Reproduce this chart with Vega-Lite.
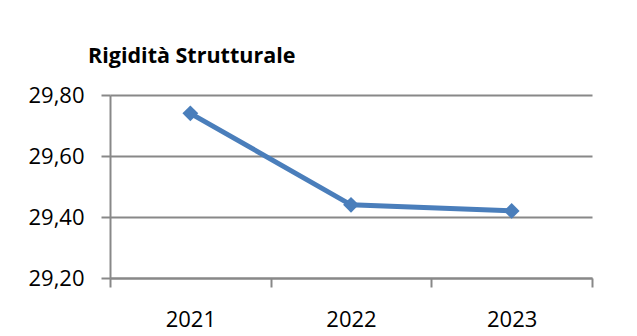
{
  "$schema": "https://vega.github.io/schema/vega-lite/v6.json",
  "width": 482,
  "height": 183,
  "autosize": {"type": "none"},
  "padding": {"left": 110, "top": 95, "right": 45, "bottom": 58},
  "background": "white",
  "title": {
    "text": "Rigidità Strutturale",
    "anchor": "start",
    "frame": "group",
    "font": "Open Sans",
    "fontSize": 21.5,
    "fontWeight": "bold",
    "color": "#000000",
    "dx": -22,
    "offset": 17
  },
  "config": {
    "view": {"stroke": null},
    "axis": {
      "labelFont": "Open Sans",
      "labelFontSize": 22,
      "labelColor": "#000000",
      "domainColor": "#888888",
      "domainWidth": 2,
      "tickColor": "#888888",
      "tickWidth": 2,
      "tickSize": 9,
      "gridColor": "#888888",
      "gridWidth": 2,
      "title": null
    }
  },
  "data": {
    "values": [
      {"year": "2021", "value": 29.74},
      {"year": "2022", "value": 29.44},
      {"year": "2023", "value": 29.42}
    ]
  },
  "mark": {
    "type": "line",
    "color": "#4A7EBB",
    "strokeWidth": 5,
    "point": {"shape": "diamond", "size": 250, "filled": true, "color": "#4A7EBB", "opacity": 1}
  },
  "encoding": {
    "x": {
      "field": "year",
      "type": "ordinal",
      "bandPosition": 0.5,
      "scale": {"type": "band", "paddingInner": 0, "paddingOuter": 0},
      "axis": {
        "labelAngle": 0,
        "tickBand": "extent",
        "grid": false,
        "labelPadding": 22
      }
    },
    "y": {
      "field": "value",
      "type": "quantitative",
      "scale": {"domain": [29.2, 29.8], "nice": false, "zero": false},
      "axis": {
        "values": [29.2, 29.4, 29.6, 29.8],
        "labelExpr": "replace(format(datum.value, '.2f'), '.', ',')",
        "grid": true,
        "labelPadding": 17
      }
    }
  }
}
